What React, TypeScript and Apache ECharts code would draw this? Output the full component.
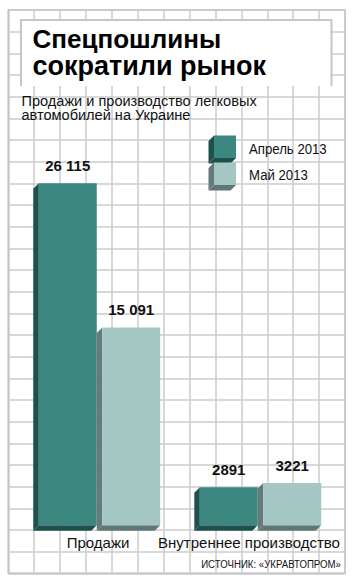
import React, { useEffect, useRef } from "react";
import * as echarts from "echarts";

const categories = ["Продажи", "Внутреннее производство"];
const seriesNames = ["Апрель 2013", "Май 2013"];
const april = [26115, 2891];
const may = [15091, 3221];
const titleLines = ["Спецпошлины", "сократили рынок"];
const subtitleLines = ["Продажи и производство легковых", "автомобилей на Украине"];
const sourceText = "ИСТОЧНИК: «УКРАВТОПРОМ»";

const FONT = "'Liberation Sans', Arial, sans-serif";
const COLORS = [
  { front: "#3c8780", side: "#1c524d", bottom: "#1e504b" },
  { front: "#a5c7c4", side: "#647b7a", bottom: "#5f7776" },
];
const DEPTH = 5.5;

const fmt = (v: number) =>
  v >= 10000 ? String(v).replace(/\B(?=(\d{3})+(?!\d))/g, " ") : String(v);

function makeRender(idx: number) {
  return (params: any, api: any) => {
    const cat = api.value(0);
    const val = api.value(1);
    const base = api.coord([cat, 0]);
    const top = api.coord([cat, val]);
    const band = api.size([1, 0])[0];
    const w = band * 0.36;
    const g = band * 0.034;
    const x0 = idx === 0 ? base[0] - g / 2 - w : base[0] + g / 2;
    const x1 = x0 + w;
    const yb = base[1];
    const yt = top[1];
    const d = DEPTH;
    const c = COLORS[idx];
    return {
      type: "group",
      children: [
        {
          type: "polygon",
          shape: { points: [[x0, yt], [x0 + d, yt - d], [x0 + d, yb - d], [x0, yb]] },
          style: { fill: c.side },
        },
        {
          type: "polygon",
          shape: { points: [[x0, yb], [x0 + d, yb - d], [x1 + d, yb - d], [x1, yb]] },
          style: { fill: c.bottom },
        },
        {
          type: "rect",
          shape: { x: x0 + d, y: yt - d, width: w, height: yb - yt },
          style: { fill: c.front },
        },
        {
          type: "text",
          x: x0 + d + w / 2,
          y: yt - d - 18,
          style: {
            text: fmt(val),
            font: `bold 15px ${FONT}`,
            fill: "#111",
            textAlign: "center",
            textVerticalAlign: "middle",
          },
        },
      ],
    };
  };
}

function legendSwatch(idx: number, yTop: number, h: number) {
  const c = COLORS[idx];
  const d = DEPTH;
  const x0 = 208.5;
  const w = 22;
  const yt = yTop + d;
  const yb = yTop + d + h;
  const x1 = x0 + w;
  return [
    { type: "polygon", z: 10, shape: { points: [[x0, yt], [x0 + d, yt - d], [x0 + d, yb - d], [x0, yb]] }, style: { fill: c.side } },
    { type: "polygon", z: 10, shape: { points: [[x0, yb], [x0 + d, yb - d], [x1 + d, yb - d], [x1, yb]] }, style: { fill: c.bottom } },
    { type: "rect", z: 10, shape: { x: x0 + d, y: yt - d, width: w, height: h }, style: { fill: c.front } },
  ];
}

export default function App() {
  const ref = useRef<HTMLDivElement>(null);
  useEffect(() => {
    document.body.style.margin = "0";
    const chart = echarts.init(ref.current!, null, { renderer: "svg" });
    const option: any = {
      animation: false,
      backgroundColor: "#fff",
      grid: [
        { left: 13.5, width: 322, top: 137.9, height: 392.8 },
        {
          left: 8.3, top: 10, width: 336.7, height: 563.3,
          show: true, borderColor: "#b3b3b3", borderWidth: 1.5, backgroundColor: "#fff",
        },
      ],
      xAxis: [
        {
          type: "category",
          gridIndex: 0,
          data: categories,
          axisLine: { show: false },
          axisTick: { show: false },
          axisLabel: {
            margin: 4,
            color: "#111",
            fontSize: 15,
            fontFamily: FONT,
            interval: 0,
            formatter: (v: string, i: number) => (i === 0 ? `{a|${v}}` : `{b|${v}}`),
            rich: {
              a: { fontSize: 15, fontFamily: FONT, color: "#111", padding: [0, 0, 0, 8] },
              b: { fontSize: 15, fontFamily: FONT, color: "#111", padding: [0, 12, 0, 0] },
            },
          },
        },
        {
          type: "value",
          gridIndex: 1,
          min: 0,
          max: 13,
          interval: 1,
          axisLine: { show: false },
          axisTick: { show: false },
          axisLabel: { show: false },
          splitLine: { show: true, lineStyle: { color: "#cbcbcb", width: 1.5 } },
        },
      ],
      yAxis: [
        { type: "value", gridIndex: 0, min: 0, max: 30000, show: false, splitLine: { show: false } },
        {
          type: "value",
          gridIndex: 1,
          min: 0,
          max: 26,
          interval: 1,
          axisLine: { show: false },
          axisTick: { show: false },
          axisLabel: { show: false },
          splitLine: { show: true, lineStyle: { color: "#cbcbcb", width: 1.5 } },
        },
      ],
      series: [april, may].map((vals, idx) => ({
        type: "custom",
        name: seriesNames[idx],
        xAxisIndex: 0,
        yAxisIndex: 0,
        renderItem: makeRender(idx),
        data: vals.map((v, i) => [i, v]),
        z: 5,
      })),
      graphic: [
        { type: "rect", z: 10, shape: { x: 21, y: 20, width: 310.5, height: 66 }, style: { fill: "#fff" } },
        {
          type: "polyline",
          z: 11,
          shape: { points: [[21, 86], [21, 20], [331.5, 20], [331.5, 86]] },
          style: { stroke: "#c6c6c6", lineWidth: 2, fill: null },
        },
        {
          type: "text", z: 12, x: 32.5, y: 38.5,
          style: { text: titleLines[0], font: `bold 26px ${FONT}`, fill: "#000", textVerticalAlign: "middle" },
        },
        {
          type: "text", z: 12, x: 32.5, y: 65.5,
          style: { text: titleLines[1], font: `bold 27px ${FONT}`, fill: "#000", textVerticalAlign: "middle" },
        },
        {
          type: "text", z: 12, x: 21.5, y: 101.2, scaleX: 1.04,
          style: { text: subtitleLines[0], font: `14px ${FONT}`, fill: "#111", textVerticalAlign: "middle" },
        },
        {
          type: "text", z: 12, x: 21.5, y: 115.4, scaleX: 1.04,
          style: { text: subtitleLines[1], font: `14px ${FONT}`, fill: "#111", textVerticalAlign: "middle" },
        },
        ...legendSwatch(0, 135.5, 22.5),
        ...legendSwatch(1, 162.5, 22.5),
        {
          type: "text", z: 12, x: 249, y: 148.3, scaleX: 0.88,
          style: { text: seriesNames[0], font: `15px ${FONT}`, fill: "#111", textVerticalAlign: "middle" },
        },
        {
          type: "text", z: 12, x: 249, y: 175, scaleX: 0.88,
          style: { text: seriesNames[1], font: `15px ${FONT}`, fill: "#111", textVerticalAlign: "middle" },
        },
        {
          type: "text", z: 12, x: 341, y: 563.5, scaleX: 0.84,
          style: { text: sourceText, font: `11.5px ${FONT}`, fill: "#111", textAlign: "right", textVerticalAlign: "middle" },
        },
      ],
    };
    chart.setOption(option);
    return () => chart.dispose();
  }, []);
  return <div ref={ref} style={{ width: 354, height: 585 }} />;
}
